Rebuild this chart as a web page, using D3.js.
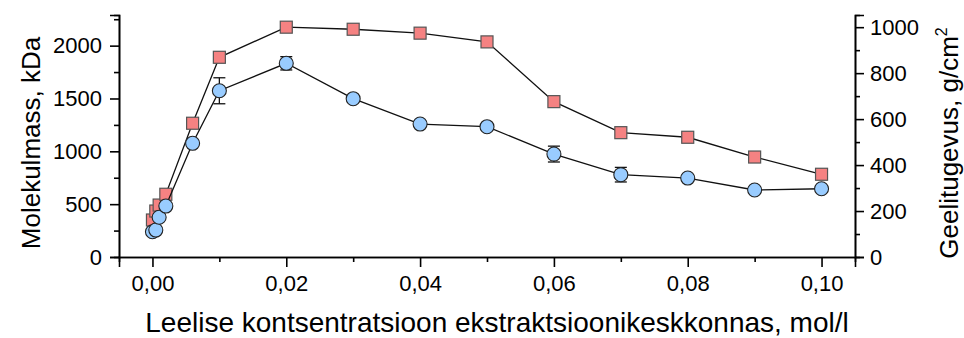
<!DOCTYPE html>
<html>
<head>
<meta charset="utf-8">
<script src="https://cdn.jsdelivr.net/npm/d3@7"></script>
<style>
  body { margin: 0; background: #fff; }
  text { font-family: "Liberation Sans", Arial, sans-serif; fill: #000; }
</style>
</head>
<body>
<script>
// leelise kontsentratsioon, mol/l
let conc = [0, 0.0005, 0.001, 0.002, 0.006, 0.01, 0.02, 0.03, 0.04, 0.05, 0.06, 0.07, 0.08, 0.09, 0.10];
// molekulmass, kDa (sinised ringid, vasak telg)
let molMass = [239, 255, 376, 482, 1076, 1573, 1833, 1498, 1258, 1233, 974, 779, 747, 634, 646];
let molErr  = [0, 0, 0, 0, 0, 123, 63, 0, 0, 0, 75, 69, 0, 0, 0];
// geelitugevus, g/cm2 (punased ruudud, parem telg)
let gelStr = [161, 200, 226, 273, 582, 869, 1000, 991, 974, 936, 676, 541, 521, 435, 360];
let xTicks = [0, 0.02, 0.04, 0.06, 0.08, 0.10];
let leftTicks = [0, 500, 1000, 1500, 2000];
let rightTicks = [0, 200, 400, 600, 800, 1000];

let width = 964, height = 338;
let pLeft = 119, pRight = 855, pTop = 15, pBottom = 257;

let svg = d3.select('body').append('svg')
    .attr('width', width)
    .attr('height', height);

let x = d3.scaleLinear().domain([-0.005, 0.105]).range([pLeft, pRight]);
let yL = d3.scaleLinear().domain([0, 2290]).range([pBottom, pTop]);
let yR = d3.scaleLinear().domain([0, 1053]).range([pBottom, pTop]);

let comma = d => d3.format('.2f')(d).replace('.', ',');
let plain = d3.format('d');

// minor ticks
let minorX = [0.01, 0.03, 0.05, 0.07, 0.09];
let minorL = [250, 750, 1250, 1750, 2250];
let minorR = [100, 300, 500, 700, 900];

let gx = svg.append('g').attr('transform', `translate(0,${pBottom})`);
gx.call(d3.axisBottom(x).tickValues(minorX).tickSize(5).tickFormat(''));
gx.append('g').call(d3.axisBottom(x).tickValues(xTicks).tickSize(10).tickPadding(8).tickFormat(comma));

let gl = svg.append('g').attr('transform', `translate(${pLeft},0)`);
gl.call(d3.axisLeft(yL).tickValues(minorL).tickSize(5).tickFormat(''));
gl.append('g').call(d3.axisLeft(yL).tickValues(leftTicks).tickSize(9).tickPadding(8).tickFormat(plain));

let gr = svg.append('g').attr('transform', `translate(${pRight},0)`);
gr.call(d3.axisRight(yR).tickValues(minorR).tickSize(5).tickFormat(''));
gr.append('g').call(d3.axisRight(yR).tickValues(rightTicks).tickSize(9).tickPadding(6).tickFormat(plain));

svg.selectAll('.domain').attr('stroke-width', 1.6);
svg.selectAll('.tick line').attr('stroke-width', 1.6);
svg.selectAll('.tick text')
    .style('font-size', '22px')
    .style('font-family', '"Liberation Sans", Arial, sans-serif');

// axis titles
svg.append('text')
    .attr('x', 497)
    .attr('y', 332)
    .attr('text-anchor', 'middle')
    .style('font-size', '28px')
    .text('Leelise kontsentratsioon ekstraktsioonikeskkonnas, mol/l');

svg.append('text')
    .attr('transform', 'translate(40,143) rotate(-90)')
    .attr('text-anchor', 'middle')
    .style('font-size', '26px')
    .text('Molekulmass, kDa');

let rt = svg.append('text')
    .attr('transform', 'translate(958,143) rotate(-90)')
    .attr('text-anchor', 'middle')
    .style('font-size', '26px');
rt.append('tspan').text('Geelitugevus, g/cm');
rt.append('tspan').attr('dy', -11).style('font-size', '16px').text('2');

// punased ruudud
let redData = conc.map((c, i) => ({x: c, y: gelStr[i]}));
let blueData = conc.map((c, i) => ({x: c, y: molMass[i], e: molErr[i]}));

let lineR = d3.line().x(d => x(d.x)).y(d => yR(d.y));
let lineL = d3.line().x(d => x(d.x)).y(d => yL(d.y));

svg.append('path').datum(redData)
    .attr('d', lineR)
    .attr('fill', 'none')
    .attr('stroke', '#111')
    .attr('stroke-width', 1.3);

let sq = 12;
svg.selectAll('rect.red')
    .data(redData)
    .enter()
    .append('rect')
    .attr('class', 'red')
    .attr('x', d => x(d.x) - sq / 2)
    .attr('y', d => yR(d.y) - sq / 2)
    .attr('width', sq)
    .attr('height', sq)
    .attr('fill', '#f58282')
    .attr('stroke', '#555')
    .attr('stroke-width', 1.2);

// sinised ringid
svg.append('path').datum(blueData)
    .attr('d', lineL)
    .attr('fill', 'none')
    .attr('stroke', '#111')
    .attr('stroke-width', 1.3);

let errs = svg.selectAll('g.err')
    .data(blueData.filter(d => d.e > 0))
    .enter()
    .append('g')
    .attr('class', 'err')
    .attr('stroke', '#111')
    .attr('stroke-width', 1.3);
errs.append('line')
    .attr('x1', d => x(d.x)).attr('x2', d => x(d.x))
    .attr('y1', d => yL(d.y - d.e)).attr('y2', d => yL(d.y + d.e));
errs.append('line')
    .attr('x1', d => x(d.x) - 6).attr('x2', d => x(d.x) + 6)
    .attr('y1', d => yL(d.y - d.e)).attr('y2', d => yL(d.y - d.e));
errs.append('line')
    .attr('x1', d => x(d.x) - 6).attr('x2', d => x(d.x) + 6)
    .attr('y1', d => yL(d.y + d.e)).attr('y2', d => yL(d.y + d.e));

svg.selectAll('circle.blue')
    .data(blueData)
    .enter()
    .append('circle')
    .attr('class', 'blue')
    .attr('cx', d => x(d.x))
    .attr('cy', d => yL(d.y))
    .attr('r', 7)
    .attr('fill', '#99ccff')
    .attr('stroke', '#222')
    .attr('stroke-width', 1.1);
</script>
</body>
</html>
